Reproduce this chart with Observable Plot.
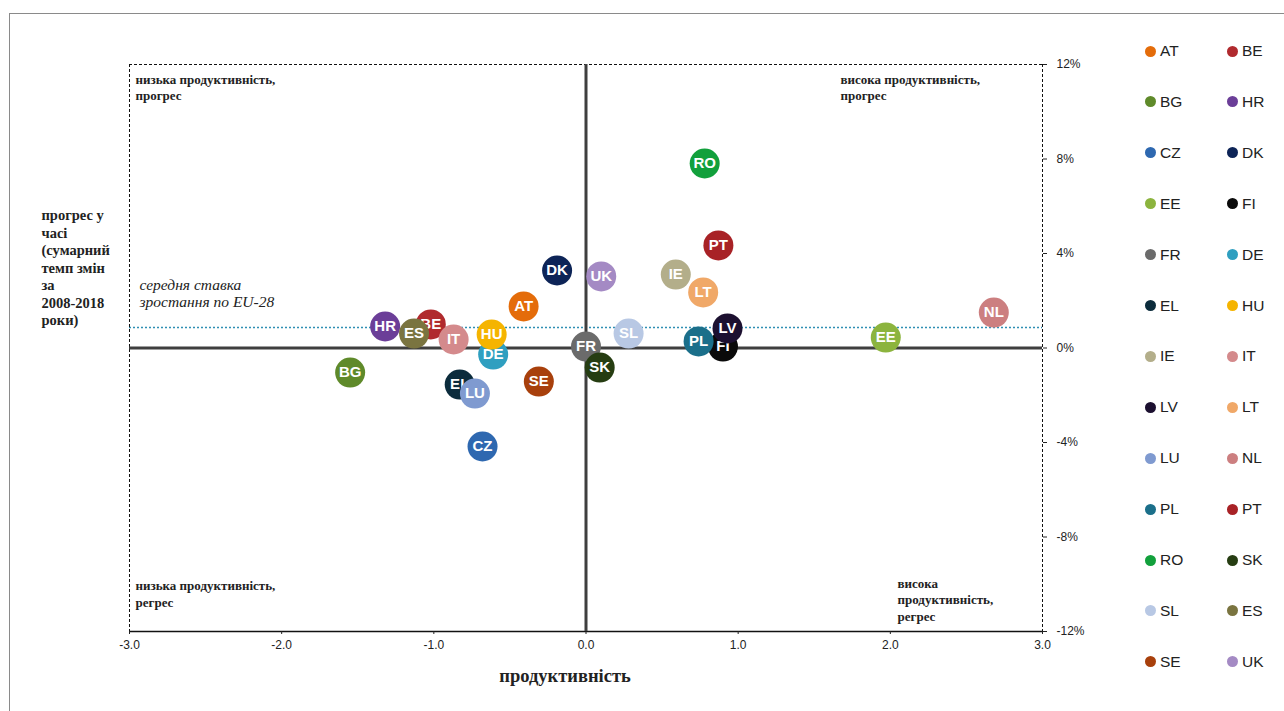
<!DOCTYPE html>
<html>
<head>
<meta charset="utf-8">
<script src="https://cdn.jsdelivr.net/npm/d3@7"></script>
<script src="https://cdn.jsdelivr.net/npm/@observablehq/plot@0.6"></script>
<style>
  html, body { margin: 0; padding: 0; background: #fff; overflow: hidden; }
  #wrap { position: relative; width: 1284px; height: 711px; overflow: hidden; }
  #border { position: absolute; left: 9px; top: 13px; width: 1300px; height: 720px; border: 1px solid #8a8a8a; box-sizing: border-box; }
  #chart { position: absolute; left: 0; top: 0; }
  .lg { position: absolute; font-family: "Liberation Sans", Arial, sans-serif; font-size: 15.5px; color: #222; display: flex; align-items: center; height: 20px; }
  .lg span.d { display: inline-block; width: 11px; height: 11px; border-radius: 50%; margin-right: 4px; }
</style>
</head>
<body>
<div id="wrap"><div id="border"></div><div id="chart"></div><div id="legend"></div></div>
<script>
const codes = ["AT","BE","BG","HR","CZ","DK","EE","FI","FR","DE","EL","HU","IE","IT","LV","LT","LU","NL","PL","PT","RO","SK","SL","ES","SE","UK"];
const productivity = [-0.41,-1.02,-1.55,-1.32,-0.68,-0.19,1.97,0.90,0.00,-0.61,-0.83,-0.62,0.59,-0.87,0.93,0.77,-0.73,2.68,0.74,0.87,0.78,0.09,0.28,-1.13,-0.31,0.10];
const growth = [1.76,1.00,-1.04,0.91,-4.17,3.28,0.44,0.06,0.06,-0.28,-1.55,0.57,3.11,0.36,0.83,2.35,-1.93,1.50,0.28,4.34,7.81,-0.83,0.61,0.61,-1.42,3.03];
const colors = ["#e46c0a","#b02a2e","#5f8a2a","#6b3e98","#2e68b0","#0d2457","#8cb43e","#0a0a0a","#6b6b6b","#2f9fc0","#0c2c3c","#f5b400","#b3ae8a","#d48a8c","#1c1030","#f0a868","#7f9ad0","#cc7f80","#1b6f8a","#a82226","#12a03c","#263d12","#b8c8e4","#7a7440","#a8400c","#a48ac4"];
const meanGrowth = 0.87;
const xTicks = [-3,-2,-1,0,1,2,3];
const yTicks = [-12,-8,-4,0,4,8,12];
const quadrantLabels = ["низька продуктивність,\nпрогрес","висока продуктивність,\nпрогрес","низька продуктивність,\nрегрес","висока\nпродуктивність,\nрегрес"];
const meanLabel = "середня ставка\nзростання по EU-28";
const xTitle = "продуктивність";
const yTitle = "прогрес у\nчасі\n(сумарний\nтемп змін\nза\n2008-2018\nроки)";

const rows = codes.map((c, i) => ({code: c, p: productivity[i], g: growth[i], color: colors[i]}));
const serif = "Liberation Serif, Times New Roman, serif";

const pointMarks = rows.flatMap(r => [
  Plot.dot([r], {x: "p", y: "g", r: 15, fill: r.color}),
  Plot.text([r], {x: "p", y: "g", text: "code", fill: "white", fontWeight: "bold", fontSize: 15, fontFamily: "Liberation Sans, Arial, sans-serif"})
]);

const qStyle = {fontWeight: "bold", fontFamily: serif, fontSize: 13, lineHeight: 1.25, fill: "#222", textAnchor: "start"};

const chart = Plot.plot({
  width: 1284, height: 711,
  marginLeft: 129, marginRight: 242, marginTop: 64, marginBottom: 80,
  x: {domain: [-3, 3]},
  y: {domain: [-12, 12]},
  style: {fontFamily: "Liberation Sans, Arial, sans-serif", fontSize: "12px", background: "transparent", color: "#222"},
  marks: [
    Plot.ruleY([meanGrowth], {stroke: "#2f8fb3", strokeWidth: 1.5, strokeDasharray: "2,2"}),
    Plot.ruleY([yTicks[yTicks.length - 1]], {stroke: "#111", strokeDasharray: "3,2"}),
    Plot.ruleX([xTicks[0], xTicks[xTicks.length - 1]], {stroke: "#111", strokeDasharray: "3,2"}),
    Plot.ruleY([yTicks[0]], {stroke: "#111", strokeWidth: 1.5}),
    Plot.ruleX([0], {stroke: "#3f3f3f", strokeWidth: 3}),
    Plot.ruleY([0], {stroke: "#3f3f3f", strokeWidth: 3}),
    Plot.axisX({ticks: xTicks, tickFormat: d => d.toFixed(1), tickSize: 3, tickPadding: 6, label: null, fontSize: 12}),
    Plot.axisY({anchor: "right", ticks: yTicks, tickFormat: d => d + "%", tickSize: 4, tickPadding: 10, label: null, fontSize: 12}),
    Plot.text([quadrantLabels[0]], {...qStyle, frameAnchor: "top-left", dx: 6, dy: 8, lineAnchor: "top"}),
    Plot.text([quadrantLabels[1]], {...qStyle, frameAnchor: "top-right", dx: -202, dy: 8, lineAnchor: "top"}),
    Plot.text([quadrantLabels[2]], {...qStyle, frameAnchor: "bottom-left", dx: 6, dy: -25, lineAnchor: "bottom"}),
    Plot.text([quadrantLabels[3]], {...qStyle, frameAnchor: "bottom-right", dx: -145, dy: -11, lineAnchor: "bottom"}),
    Plot.text([meanLabel], {x: xTicks[0], y: meanGrowth, dx: 10, dy: -20, textAnchor: "start", lineAnchor: "bottom", fontStyle: "italic", fontFamily: serif, fontSize: 15.5, lineHeight: 1.15, fill: "#222"}),
    Plot.text([xTitle], {frameAnchor: "bottom", dx: -21, dy: 50, fontWeight: "bold", fontFamily: serif, fontSize: 18.5, fill: "#222"}),
    Plot.text([yTitle], {frameAnchor: "top-left", dx: -88, dy: 143, textAnchor: "start", lineAnchor: "top", fontWeight: "bold", fontFamily: serif, fontSize: 14.5, lineHeight: 1.21, fill: "#222"}),
    ...pointMarks
  ]
});
document.getElementById("chart").appendChild(chart);

const legend = document.getElementById("legend");
rows.forEach((r, i) => {
  const col = i % 2, row = Math.floor(i / 2);
  const el = document.createElement("div");
  el.className = "lg";
  el.style.left = (1145 + col * 82) + "px";
  el.style.top = (51 + row * 50.9 - 10) + "px";
  el.innerHTML = `<span class="d" style="background:${r.color}"></span>${r.code}`;
  legend.appendChild(el);
});
</script>
</body>
</html>
